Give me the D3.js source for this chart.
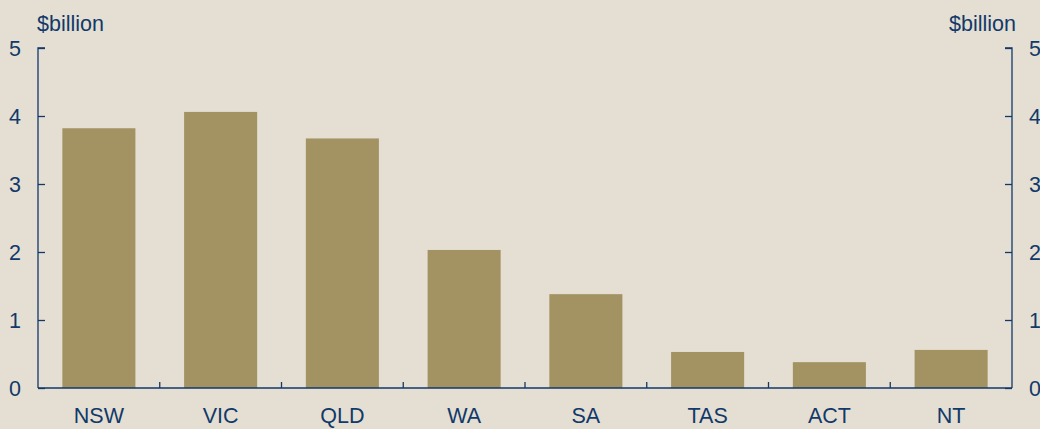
<!DOCTYPE html>
<html>
<head>
<meta charset="utf-8">
<script src="https://cdn.jsdelivr.net/npm/d3@7.9.0/dist/d3.min.js"></script>
<style>
  html, body { margin: 0; padding: 0; background: #e4dfd2; }
  svg { display: block; }
  text { font-family: "Liberation Sans", Arial, sans-serif; fill: #11396a; }
</style>
</head>
<body>
<svg id="chart" width="1040" height="429"></svg>
<script>
// Chart data
const states = ['NSW', 'VIC', 'QLD', 'WA', 'SA', 'TAS', 'ACT', 'NT'];
const values = [3.82, 4.06, 3.67, 2.03, 1.38, 0.53, 0.38, 0.56];
const yTicks = [0, 1, 2, 3, 4, 5];
const unitLabel = '$billion';

const width = 1040, height = 429;
const margin = { top: 48, right: 28, bottom: 41, left: 38 };
const axisColor = '#11396a';
const barColor = '#a39262';
const fontSize = 21.5;

const svg = d3.select('#chart');

svg.append('rect')
    .attr('width', width)
    .attr('height', height)
    .attr('fill', '#e4dfd2');

const x = d3.scaleBand()
    .domain(states)
    .range([margin.left, width - margin.right])
    .paddingInner(0.4)
    .paddingOuter(0.2);

const y = d3.scaleLinear()
    .domain([0, 5])
    .range([height - margin.bottom, margin.top]);

// Bars
svg.append('g')
    .selectAll('rect')
    .data(states)
    .join('rect')
    .attr('x', d => x(d))
    .attr('y', (d, i) => y(values[i]))
    .attr('width', x.bandwidth())
    .attr('height', (d, i) => y(0) - y(values[i]))
    .attr('fill', barColor);

// Left axis
const left = svg.append('g')
    .attr('transform', `translate(${margin.left},0)`)
    .call(d3.axisRight(y).tickValues(yTicks).tickSize(7).tickFormat(''));
left.select('.domain').attr('d', `M7,${y(5)}H0V${y(0)}`);

// Right axis
const right = svg.append('g')
    .attr('transform', `translate(${width - margin.right},0)`)
    .call(d3.axisLeft(y).tickValues(yTicks).tickSize(7).tickFormat(''));
right.select('.domain').attr('d', `M-7,${y(5)}H0V${y(0)}`);

[left, right].forEach(g => {
    g.selectAll('line, path').attr('stroke', axisColor).attr('stroke-width', 1.3);
});

// Y tick labels
svg.append('g')
    .selectAll('text')
    .data(yTicks)
    .join('text')
    .attr('x', 21)
    .attr('y', d => y(d))
    .attr('dy', '0.36em')
    .attr('text-anchor', 'end')
    .attr('font-size', fontSize)
    .text(d => d);

svg.append('g')
    .selectAll('text')
    .data(yTicks)
    .join('text')
    .attr('x', 1029)
    .attr('y', d => y(d))
    .attr('dy', '0.36em')
    .attr('text-anchor', 'start')
    .attr('font-size', fontSize)
    .text(d => d);

// Unit labels
svg.append('text')
    .attr('x', 37)
    .attr('y', 31)
    .attr('font-size', fontSize)
    .text(unitLabel);

svg.append('text')
    .attr('x', 1016)
    .attr('y', 31)
    .attr('text-anchor', 'end')
    .attr('font-size', fontSize)
    .text(unitLabel);

// Baseline with category separators
const step = x.step();
const boundaries = d3.range(1, states.length).map(i => margin.left + i * step);
svg.append('line')
    .attr('x1', margin.left)
    .attr('x2', width - margin.right)
    .attr('y1', y(0))
    .attr('y2', y(0))
    .attr('stroke', axisColor)
    .attr('stroke-width', 1.3);

svg.append('g')
    .selectAll('line')
    .data(boundaries)
    .join('line')
    .attr('x1', d => d)
    .attr('x2', d => d)
    .attr('y1', y(0))
    .attr('y2', y(0) - 6)
    .attr('stroke', axisColor)
    .attr('stroke-width', 1.3);

// Category labels
svg.append('g')
    .selectAll('text')
    .data(states)
    .join('text')
    .attr('x', d => x(d) + x.bandwidth() / 2)
    .attr('y', 423)
    .attr('text-anchor', 'middle')
    .attr('font-size', fontSize)
    .text(d => d);
</script>
</body>
</html>
